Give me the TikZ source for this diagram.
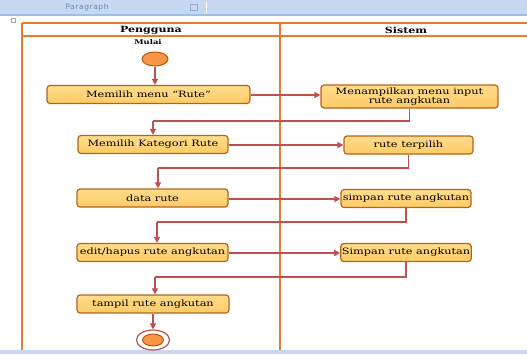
\documentclass[tikz,border=0pt]{standalone}
\usepackage{fontspec}
\usepackage{xcolor}
\usepackage{tikz}
\usetikzlibrary{positioning,arrows.meta,shapes}
\newfontfamily\umlfont[FakeStretch=1.3]{DejaVu Serif}
\newfontfamily\barfont[LetterSpace=8]{DejaVu Sans}
\definecolor{bandblue}{HTML}{C6D9F0}
\definecolor{bandline}{HTML}{A3BDE0}
\definecolor{bartext}{HTML}{6C89B2}
\definecolor{lane}{HTML}{E97B2A}
\definecolor{actline}{HTML}{B3651E}
\definecolor{acttop}{HTML}{FFDC8C}
\definecolor{actbot}{HTML}{FFCB66}
\definecolor{flowred}{HTML}{C0504D}
\definecolor{startfill}{HTML}{F79646}
\definecolor{startline}{HTML}{B65708}

\begin{document}
\begin{tikzpicture}[x=1pt,y=-1pt,
	act/.style={draw=actline,line width=1.2pt,rounded corners=3pt,top color=acttop,bottom color=actbot,
		minimum height=18pt,inner sep=1pt,align=center,font=\umlfont\fontsize{8.7}{8.5}\selectfont},
	flow/.style={draw=flowred,line width=1.4pt,-{Triangle[length=6pt,width=6pt]}},
	plain/.style={draw=flowred,line width=1.4pt},
	lanehead/.style={font=\umlfont\bfseries\fontsize{8.5}{8.5}\selectfont},
	startdot/.style={ellipse,draw=startline,line width=1pt,fill=startfill,minimum width=26pt,minimum height=14pt,inner sep=0pt},
	endring/.style={ellipse,draw=flowred,line width=1.2pt,fill=white,minimum width=33pt,minimum height=20pt,inner sep=0pt}]
	\useasboundingbox (0,0) rectangle (527,354);
	% word toolbar
	\fill[bandblue] (0,0) rectangle (527,15);
	\draw[bandline,line width=1.5pt] (0,15) -- (527,15);
	\draw[white,line width=1pt] (206,2) -- (206,13);
	\node[font=\barfont\fontsize{7.5}{7.5}\selectfont,text=bartext] (paragraf) at (87,7) {Paragraph};
	\draw[bartext!70,line width=0.5pt] (190,4) rectangle (197,10);
	\draw[gray!70,line width=0.5pt] (11,18) rectangle (15,22);
	\fill[bandblue] (0,350) rectangle (527,354);
	% swimlane
	\draw[lane,line width=1.3pt] (22,23) -- (527,23);
	\draw[lane,line width=1.3pt] (22,36) -- (527,36);
	\draw[lane,line width=1.3pt] (22,23) -- (22,350);
	\draw[lane,line width=1.3pt] (280,23) -- (280,350);
	\node[lanehead] (pengguna) at (151,30) {Pengguna};
	\node[lanehead] (sistem) at (406,30) {Sistem};
	\node[lanehead,font=\umlfont\bfseries\fontsize{6.5}{6.5}\selectfont] (mulai) at (148,42) {Mulai};

	\node[startdot] (awal) at (155,59) {};
	\node[act,minimum width=203pt] (a1) at (148.5,94.5) {Memilih menu “Rute”};
	\node[act,minimum width=177pt,minimum height=23pt] (s1) at (409.5,96.5) {Menampilkan menu input\\rute angkutan};
	\node[act,minimum width=150pt] (a2) at (153,144.5) {Memilih Kategori Rute};
	\node[act,minimum width=129pt] (s2) at (408.5,145) {rute terpilih};
	\node[act,minimum width=151pt] (a3) at (152.5,198) {data rute};
	\node[act,minimum width=130pt] (s3) at (406,198.5) {simpan rute angkutan};
	\node[act,minimum width=151pt] (a4) at (152.5,252.5) {edit/hapus rute angkutan};
	\node[act,minimum width=130pt] (s4) at (406,252.5) {Simpan rute angkutan};
	\node[act,minimum width=152pt] (a5) at (153,304) {tampil rute angkutan};
	\node[endring] (akhir) at (153,340) {};
	\node[startdot,minimum width=21pt,minimum height=12pt] (akhirdot) at (akhir) {};

	\coordinate (k1) at (153,121);
	\coordinate (k2) at (158,168);
	\coordinate (k3) at (157,222);
	\coordinate (k4) at (155,277);

	\draw[flow] (awal.south) -- (awal.south |- a1.north);
	\draw[flow] (a1.east |- 0,95) -- (s1.west |- 0,95);
	\draw[plain] (s1.south) |- (k1);
	\draw[flow] (k1) -- (a2.north);
	\draw[flow] (a2.east |- 0,145) -- (s2.west |- 0,145);
	\draw[plain] (s2.south) |- (k2);
	\draw[flow] (k2) -- (k2 |- a3.north);
	\draw[flow] (a3.east |- 0,199) -- (s3.west |- 0,199);
	\draw[plain] (s3.south) |- (k3);
	\draw[flow] (k3) -- (k3 |- a4.north);
	\draw[flow] (a4.east |- 0,253) -- (s4.west |- 0,253);
	\draw[plain] (s4.south) |- (k4);
	\draw[flow] (k4) -- (k4 |- a5.north);
	\draw[flow] (a5.south) -- (akhir.north);
\end{tikzpicture}
\end{document}
